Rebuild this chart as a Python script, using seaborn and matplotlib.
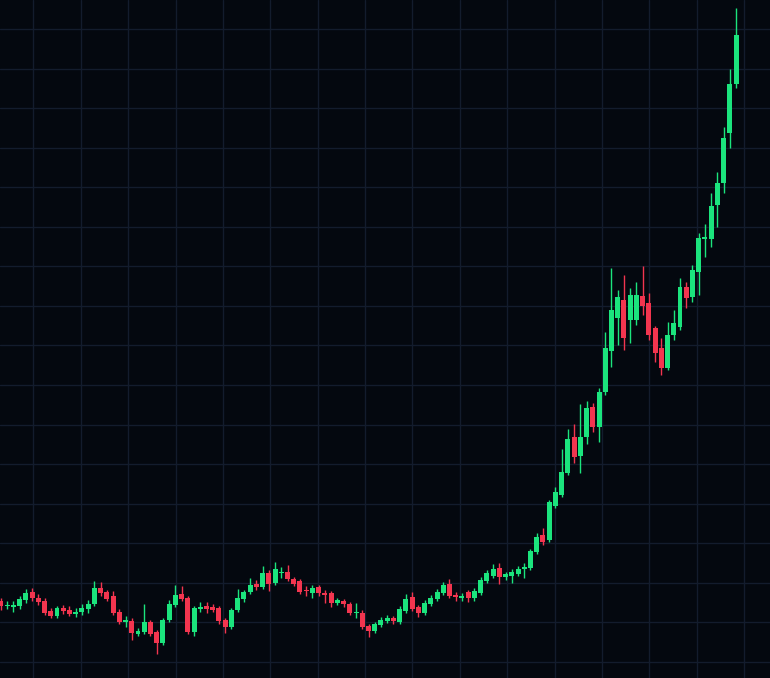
import numpy as np
import pandas as pd
import matplotlib
matplotlib.use("Agg")
import matplotlib.pyplot as plt
import seaborn as sns

# OHLC values (arbitrary price units)
opens = [99, 94, 93, 94, 100, 108, 102, 99, 89, 84, 92, 90, 86, 88, 91, 96, 112, 108, 104, 88,
         78, 79, 66, 68, 78, 68, 57, 80, 95, 106, 102, 68, 91, 94, 93, 92, 80, 73, 90, 101,
         108, 116, 113, 127, 117, 127, 128, 121, 119, 110, 107, 113, 107, 107, 97, 99, 96, 87, 87, 74,
         69, 75, 79, 82, 78, 89, 103, 93, 87, 96, 101, 107, 116, 105, 102, 108, 102, 107, 119, 124,
         132, 123, 124, 126, 131, 132, 148, 165, 160, 194, 205, 227, 263, 244, 263, 293, 273, 308, 349, 382,
         400, 380, 380, 404, 397, 372, 352, 332, 365, 373, 413, 403, 428, 461, 461, 495, 517, 567, 616]
highs = [102, 99, 99, 104, 111, 112, 106, 102, 92, 94, 95, 94, 92, 96, 100, 119, 118, 110, 109, 91,
         84, 82, 72, 96, 80, 70, 82, 100, 115, 114, 104, 94, 98, 98, 96, 94, 82, 92, 111, 110,
         122, 120, 134, 130, 138, 133, 135, 123, 121, 114, 115, 115, 110, 109, 102, 101, 98, 97, 90, 76,
         78, 83, 85, 84, 94, 106, 108, 95, 100, 105, 111, 118, 121, 108, 107, 110, 112, 123, 130, 136,
         137, 128, 131, 134, 137, 151, 167, 172, 200, 213, 251, 271, 276, 296, 299, 297, 312, 368, 432, 410,
         425, 412, 418, 434, 407, 374, 362, 378, 390, 422, 418, 435, 467, 476, 507, 528, 573, 631, 692]
lows = [90, 91, 88, 91, 97, 99, 95, 85, 82, 82, 86, 84, 83, 85, 87, 94, 104, 99, 85, 76,
        73, 60, 64, 66, 64, 46, 55, 78, 93, 99, 66, 64, 88, 87, 88, 76, 67, 71, 88, 98,
        106, 110, 111, 109, 115, 122, 119, 114, 106, 104, 102, 104, 97, 93, 95, 93, 85, 82, 71, 63,
        67, 73, 77, 76, 76, 87, 89, 83, 85, 94, 99, 105, 102, 99, 99, 98, 99, 105, 117, 122,
        116, 120, 117, 124, 122, 130, 146, 155, 158, 192, 203, 225, 237, 227, 256, 268, 258, 305, 333, 355,
        350, 357, 375, 385, 360, 338, 325, 330, 360, 370, 392, 398, 405, 443, 453, 473, 507, 552, 612]
closes = [94, 95, 95, 101, 107, 102, 98, 87, 84, 92, 89, 86, 88, 92, 96, 112, 107, 101, 87, 78,
          80, 67, 69, 78, 66, 57, 80, 96, 105, 101, 68, 92, 93, 91, 90, 79, 73, 90, 102, 108,
          115, 113, 127, 116, 131, 128, 121, 116, 108, 109, 112, 107, 105, 97, 100, 96, 87, 88, 73, 69,
          76, 80, 82, 79, 91, 101, 91, 87, 97, 102, 108, 115, 104, 103, 104, 102, 109, 120, 127, 131,
          123, 126, 128, 131, 133, 149, 163, 158, 198, 208, 228, 261, 243, 263, 292, 273, 308, 352, 390, 403,
          362, 405, 405, 394, 365, 347, 332, 365, 377, 413, 402, 430, 462, 463, 494, 517, 562, 616, 665]

df = pd.DataFrame({"open": opens, "high": highs, "low": lows, "close": closes})
df["idx"] = np.arange(len(df))
df["up"] = df["close"] >= df["open"]

BG = "#04080f"
GRID = "#131c2d"
GREEN = "#1be47d"
RED = "#f2354f"

sns.set_theme(style="dark", rc={"axes.facecolor": BG, "figure.facecolor": BG})

fig = plt.figure(figsize=(7.7, 6.78), dpi=100)
ax = fig.add_axes([0, 0, 1, 1])
ax.set_facecolor(BG)

dx = 6.23                      # pixel spacing between candles
ax.set_xlim(-0.15, 770 / dx - 0.15)
ax.set_ylim(22, 700)

# grid
vgrid = 33.3 / dx - 0.15 + np.arange(16) * 47.4 / dx
hgrid = 671 - np.arange(17) * 39.56
for v in vgrid:
    ax.axvline(v, color=GRID, lw=1.0, zorder=0)
for h in hgrid:
    ax.axhline(h, color=GRID, lw=1.0, zorder=0)

colors = np.where(df["up"], GREEN, RED)

# wicks
ax.vlines(df["idx"], df["low"], df["high"], colors=colors, lw=1.0, zorder=2)

# bodies
bottoms = np.minimum(df["open"], df["close"])
heights = np.maximum(np.abs(df["close"] - df["open"]), 1.5)
ax.bar(df["idx"], heights, bottom=bottoms, width=0.8, color=colors,
       edgecolor="none", linewidth=0, zorder=3)

ax.set_xticks([])
ax.set_yticks([])
for s in ax.spines.values():
    s.set_visible(False)

fig.savefig("out.png", dpi=100, facecolor=BG)
